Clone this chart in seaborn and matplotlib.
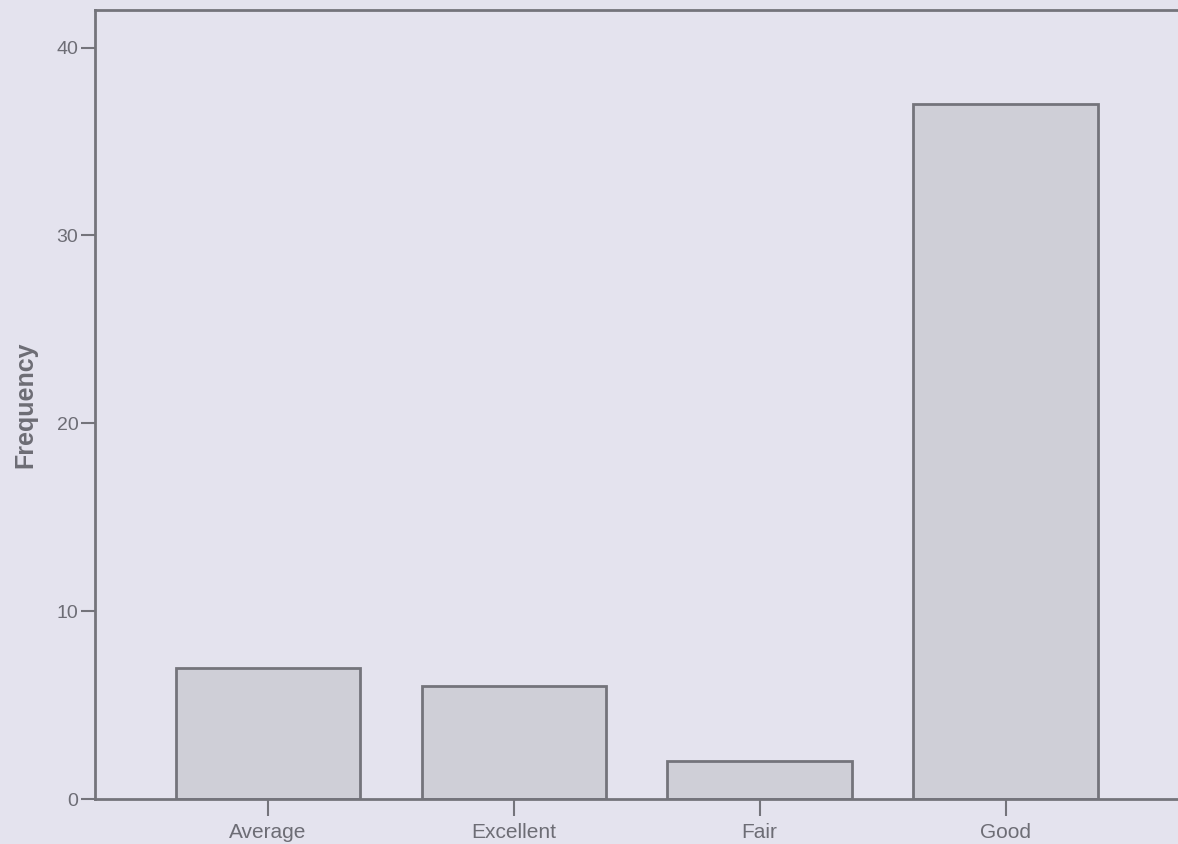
import matplotlib
matplotlib.use("Agg")
import matplotlib.pyplot as plt
import seaborn as sns
import pandas as pd

categories = ["Average", "Excellent", "Fair", "Good"]
frequency = [7, 6, 2, 37]
y_ticks = [0, 10, 20, 30, 40]

sns.set_theme(style="white")
plt.rcParams["font.family"] = ["Liberation Sans", "DejaVu Sans"]

bg = "#e4e3ee"
text_c = "#6d6d75"
edge_c = "#74747b"

fig = plt.figure(figsize=(11.78, 8.44), dpi=100)
fig.patch.set_facecolor(bg)
W, H = 1178, 844
ax = fig.add_axes([95 / W, 1 - 799 / H, (1190 - 95) / W, (799 - 10) / H])
ax.set_facecolor(bg)

df = pd.DataFrame({"Rating": categories, "Frequency": frequency})
sns.barplot(data=df, x="Rating", y="Frequency", order=categories, color="#cfcfd7",
            edgecolor=edge_c, linewidth=2, width=0.75, saturation=1, ax=ax)

ax.set_xlim(-0.703, 3.75)
ax.set_ylim(0, 42)
ax.set_yticks(y_ticks)
ax.set_xlabel("")
ax.set_ylabel("Frequency", fontsize=18, fontweight="bold", color=text_c, labelpad=14)
ax.tick_params(axis="both", colors=edge_c, labelcolor=text_c, direction="out",
               width=1.5, bottom=True, left=True)
ax.tick_params(axis="x", labelsize=15, pad=5, length=12)
ax.tick_params(axis="y", labelsize=14, pad=2, length=10)
for s in ax.spines.values():
    s.set_color(edge_c)
    s.set_linewidth(2)

fig.savefig("out.png", dpi=100, facecolor=bg)
